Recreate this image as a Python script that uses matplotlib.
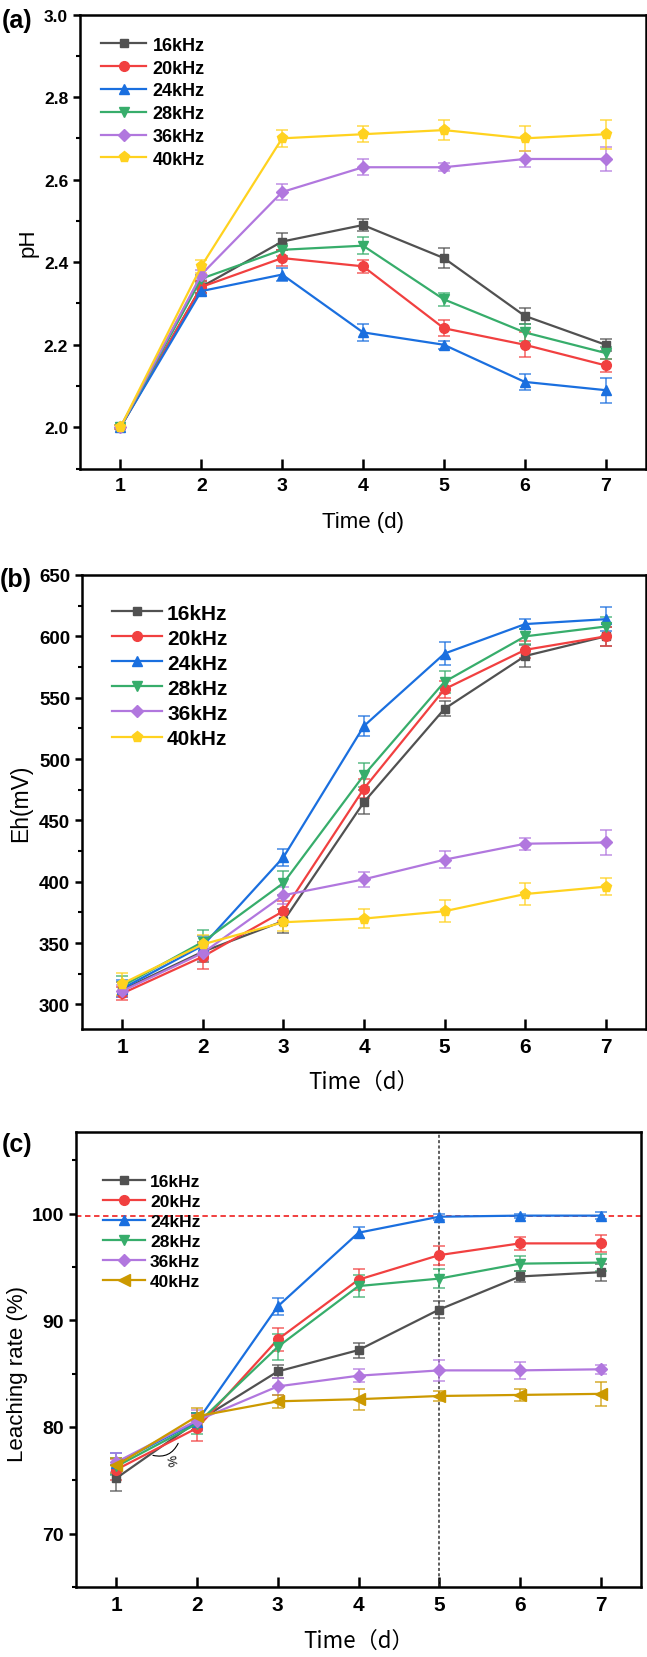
import matplotlib
matplotlib.use("Agg")
import matplotlib.pyplot as plt
from matplotlib.ticker import MultipleLocator

plt.rcParams['font.family'] = ['Liberation Sans', 'DejaVu Sans']

days = [1, 2, 3, 4, 5, 6, 7]
labels = ['16kHz', '20kHz', '24kHz', '28kHz', '36kHz', '40kHz']

# Panel (a): pH
ph_16 = [2.00, 2.34, 2.45, 2.49, 2.41, 2.27, 2.20]
ph_20 = [2.00, 2.34, 2.41, 2.39, 2.24, 2.20, 2.15]
ph_24 = [2.00, 2.33, 2.37, 2.23, 2.20, 2.11, 2.09]
ph_28 = [2.00, 2.36, 2.43, 2.44, 2.31, 2.23, 2.18]
ph_36 = [2.00, 2.37, 2.57, 2.63, 2.63, 2.65, 2.65]
ph_40 = [2.00, 2.39, 2.70, 2.71, 2.72, 2.70, 2.71]
ph_err_16 = [0.005, 0.015, 0.02, 0.015, 0.025, 0.02, 0.015]
ph_err_20 = [0.005, 0.015, 0.02, 0.015, 0.02, 0.03, 0.015]
ph_err_24 = [0.005, 0.01, 0.015, 0.02, 0.01, 0.02, 0.03]
ph_err_28 = [0.005, 0.01, 0.015, 0.02, 0.015, 0.02, 0.015]
ph_err_36 = [0.005, 0.01, 0.02, 0.02, 0.01, 0.02, 0.03]
ph_err_40 = [0.005, 0.015, 0.02, 0.02, 0.025, 0.03, 0.035]

# Panel (b): Eh (mV)
eh_16 = [312, 343, 368, 465, 541, 584, 600]
eh_20 = [309, 339, 376, 476, 557, 589, 600]
eh_24 = [313, 348, 420, 527, 586, 610, 614]
eh_28 = [315, 351, 399, 487, 563, 600, 608]
eh_36 = [311, 342, 389, 402, 418, 431, 432]
eh_40 = [317, 349, 367, 370, 376, 390, 396]
eh_err_16 = [6, 8, 10, 10, 6, 9, 8]
eh_err_20 = [5, 10, 8, 8, 7, 7, 8]
eh_err_24 = [7, 8, 7, 8, 9, 4, 10]
eh_err_28 = [8, 10, 10, 10, 9, 6, 8]
eh_err_36 = [5, 6, 7, 6, 7, 5, 10]
eh_err_40 = [9, 8, 7, 8, 9, 9, 7]

# Panel (c): leaching rate (%)
lr_16 = [75.2, 80.5, 85.2, 87.2, 91.0, 94.1, 94.5]
lr_20 = [76.0, 79.9, 88.2, 93.8, 96.1, 97.2, 97.2]
lr_24 = [76.6, 80.5, 91.3, 98.2, 99.7, 99.8, 99.8]
lr_28 = [76.3, 80.3, 87.5, 93.2, 93.9, 95.3, 95.4]
lr_36 = [76.7, 80.6, 83.8, 84.8, 85.3, 85.3, 85.4]
lr_40 = [76.4, 81.0, 82.4, 82.6, 82.9, 83.0, 83.1]
lr_err_16 = [1.2, 0.8, 0.6, 0.7, 0.8, 0.5, 0.8]
lr_err_20 = [1.0, 1.2, 1.1, 1.0, 0.9, 0.6, 0.8]
lr_err_24 = [1.0, 0.8, 0.8, 0.5, 0.3, 0.2, 0.3]
lr_err_28 = [0.8, 1.0, 1.2, 1.0, 0.9, 0.7, 0.8]
lr_err_36 = [0.9, 1.0, 0.8, 0.6, 1.0, 0.8, 0.4]
lr_err_40 = [0.7, 0.8, 0.6, 1.0, 0.5, 0.6, 1.1]
target_line = 99.77
marked_day = 5

colors_ab = ['#515151', '#F14040', '#1A6FDF', '#37AD6B', '#B177DE', '#FFD21F']
colors_c = ['#515151', '#F14040', '#1A6FDF', '#37AD6B', '#B177DE', '#CC9900']
markers_ab = ['s', 'o', '^', 'v', 'D', 'p']
markers_c = ['s', 'o', '^', 'v', 'D', '<']
msizes = [6, 7, 7, 7, 6, 8]

W, H = 647, 1658
fig = plt.figure(figsize=(W / 100, H / 100), dpi=100)


def add_ax(l, t, r, b):
    return fig.add_axes([l / W, 1 - b / H, (r - l) / W, (b - t) / H])


def draw(ax, series, errs, colors, markers):
    for s, e, c, m, ms, lab in zip(series, errs, colors, markers, msizes, labels):
        ax.errorbar(days, s, yerr=e, color=c, ecolor=c, elinewidth=1.2,
                    capsize=4.5, capthick=1.2, alpha=0.75, zorder=3,
                    fmt='none')
        ax.plot(days, s, color=c, marker=m, ms=ms, lw=1.6, label=lab, zorder=4,
                mec=c)


def style(ax, xfs, yfs):
    for sp in ax.spines.values():
        sp.set_linewidth(1.8)
    ax.set_xlim(0.5, 7.5)
    ax.set_xticks(days)
    ax.tick_params(axis='x', direction='in', length=7, width=1.8,
                   labelsize=xfs, pad=6, top=False)
    ax.tick_params(axis='y', which='major', direction='out', length=5,
                   width=1.8, labelsize=yfs, right=False)
    ax.tick_params(axis='y', which='minor', direction='out', length=3,
                   width=1.5, right=False)
    for t in ax.get_xticklabels() + ax.get_yticklabels():
        t.set_fontweight('bold')


narrow = ['Liberation Sans Narrow', 'Noto Sans CJK SC']

# ---- (a)
axa = add_ax(80, 15.5, 646, 469.6)
draw(axa, [ph_16, ph_20, ph_24, ph_28, ph_36, ph_40],
     [ph_err_16, ph_err_20, ph_err_24, ph_err_28, ph_err_36, ph_err_40],
     colors_ab, markers_ab)
axa.set_ylim(1.9, 3.0)
axa.yaxis.set_major_locator(MultipleLocator(0.2))
axa.yaxis.set_minor_locator(MultipleLocator(0.1))
style(axa, 14, 12.5)
axa.set_ylabel('pH', fontsize=16)
axa.yaxis.set_label_coords(-0.074, 0.5)
axa.set_xlabel('Time (d)', fontsize=16)
axa.xaxis.set_label_coords(0.5, -0.094)
axa.legend(loc='upper left', bbox_to_anchor=(0.037, 0.951), frameon=False,
           prop={'weight': 'bold', 'size': 13}, handlelength=2.5,
           handletextpad=0.35, labelspacing=0.32, borderpad=0, borderaxespad=0)
fig.text(2 / W, 1 - 21 / H, '(a)', fontsize=18, fontweight='bold', va='center')

# ---- (b)
axb = add_ax(82, 576, 646, 1030)
draw(axb, [eh_16, eh_20, eh_24, eh_28, eh_36, eh_40],
     [eh_err_16, eh_err_20, eh_err_24, eh_err_28, eh_err_36, eh_err_40],
     colors_ab, markers_ab)
axb.set_ylim(280, 650)
axb.yaxis.set_major_locator(MultipleLocator(50))
axb.yaxis.set_minor_locator(MultipleLocator(25))
style(axb, 15, 13.5)
axb.set_ylabel('Eh(mV)', fontsize=16.5)
axb.yaxis.set_label_coords(-0.089, 0.5)
axb.set_xlabel('Time（d）', fontsize=16, family=narrow)
axb.xaxis.set_label_coords(0.5, -0.09)
axb.legend(loc='upper left', bbox_to_anchor=(0.053, 0.937), frameon=False,
           prop={'weight': 'bold', 'size': 15}, handlelength=2.4,
           handletextpad=0.25, labelspacing=0.29, borderpad=0, borderaxespad=0)
fig.text(0 / W, 1 - 580 / H, '(b)', fontsize=18, fontweight='bold', va='center')

# ---- (c)
axc = add_ax(76, 1133.4, 641, 1588)
axc.axhline(target_line, color='#F03030', ls=(0, (3, 2)), lw=1.3, zorder=2)
axc.axvline(marked_day, color='#333333', ls=(0, (2, 1.5)), lw=1.1, zorder=2)
draw(axc, [lr_16, lr_20, lr_24, lr_28, lr_36, lr_40],
     [lr_err_16, lr_err_20, lr_err_24, lr_err_28, lr_err_36, lr_err_40],
     colors_c, markers_c)
axc.set_ylim(65, 107.6)
axc.yaxis.set_major_locator(MultipleLocator(10))
axc.yaxis.set_minor_locator(MultipleLocator(5))
style(axc, 15, 14)
axc.set_ylabel('Leaching rate (%)', fontsize=16)
axc.yaxis.set_label_coords(-0.085, 0.47)
axc.set_xlabel('Time（d）', fontsize=16, family=narrow)
axc.xaxis.set_label_coords(0.5, -0.092)
axc.legend(loc='upper left', bbox_to_anchor=(0.048, 0.908), frameon=False,
           prop={'weight': 'bold', 'size': 12.5}, handlelength=2.4,
           handletextpad=0.3, labelspacing=0.28, borderpad=0, borderaxespad=0)
axc.annotate('', xy=(1.78, 78.7), xytext=(1.42, 77.4),
             arrowprops=dict(arrowstyle='-', lw=0.8, color='black',
                             connectionstyle='arc3,rad=0.45'), zorder=5)
axc.text(1.66, 76.9, '%', rotation=-80, fontsize=9, ha='center', va='center')
fig.text(2 / W, 1 - 1145 / H, '(c)', fontsize=18, fontweight='bold', va='center')

fig.savefig('out.png', dpi=100)
